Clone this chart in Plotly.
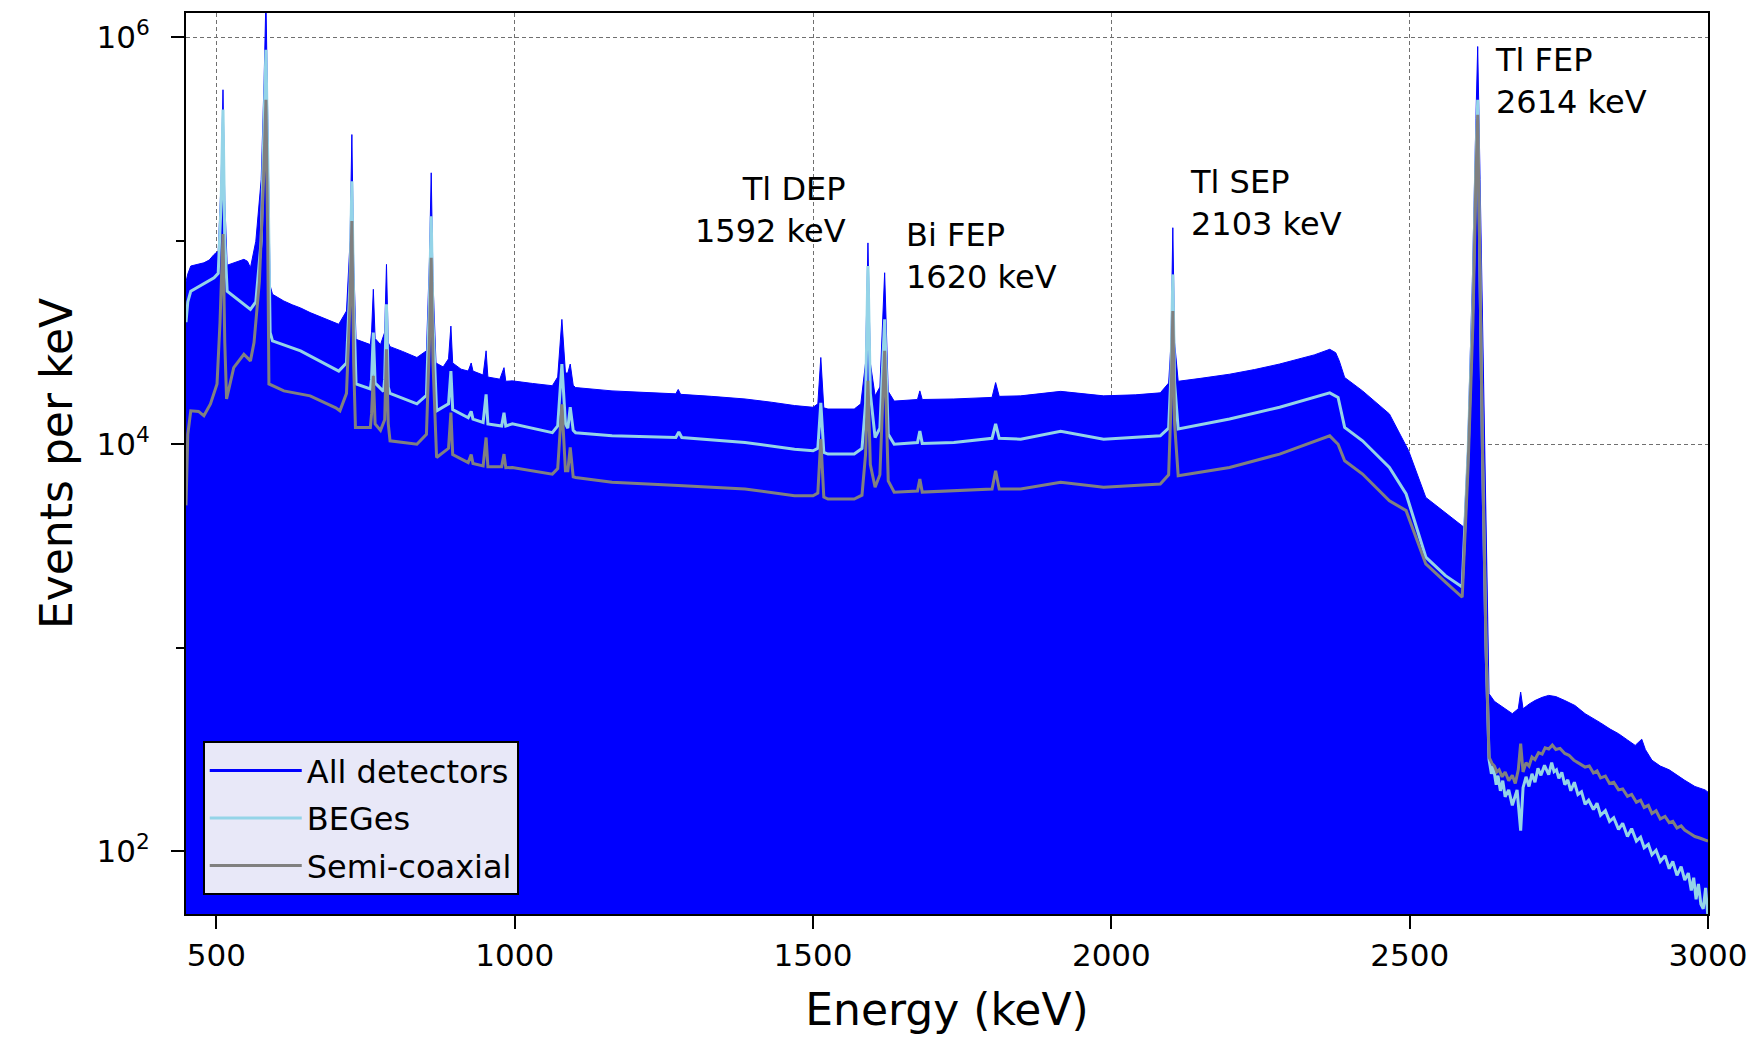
import math
import plotly.graph_objects as go

# ---- Spectrum of all detectors (counts per keV) ----
all_energy = [449, 452, 457, 468, 479, 488, 496, 503, 508, 511, 514, 518, 530, 538, 546, 552, 557, 566,
              575, 580, 583, 586, 590, 594, 603, 613, 627, 641, 657, 672, 690, 705, 718, 724, 727, 730,
              734, 750, 758, 760, 763, 766, 775, 782, 785, 788, 791, 812, 836, 852, 857, 860, 863, 868,
              880, 889, 893, 896, 910, 922, 927, 930, 947, 952, 955, 975, 982, 985, 996, 1030, 1063, 1072,
              1079, 1085, 1089, 1093, 1098, 1102, 1130, 1163, 1215, 1270, 1274, 1278, 1330, 1386, 1430,
              1469, 1500, 1508, 1513, 1518, 1525, 1569, 1580, 1588, 1592, 1596, 1604, 1612, 1620, 1626,
              1636, 1675, 1679, 1683, 1736, 1800, 1806, 1812, 1848, 1915, 1987, 2040, 2082, 2096, 2100,
              2103, 2106, 2112, 2150, 2198, 2240, 2282, 2340, 2366, 2376, 2382, 2391, 2421, 2466, 2498,
              2527, 2560, 2591, 2597, 2605, 2611, 2614, 2618, 2624, 2629, 2633, 2642, 2650, 2660, 2672,
              2682, 2686, 2690, 2700, 2710, 2722, 2733, 2745, 2760, 2777, 2794, 2808, 2820, 2836, 2850,
              2865, 2878, 2889, 2895, 2906, 2920, 2935, 2948, 2961, 2978, 2995, 3000]
all_counts = [63000, 68700, 75200, 76500, 78000, 80500, 85700, 89100, 200000, 553000, 158000, 75900,
              78000, 80000, 81100, 79400, 73800, 99500, 200000, 631000, 1580000, 398000, 60300, 54600,
              52500, 50600, 48500, 46800, 44400, 42600, 40500, 38900, 45200, 100000, 333000, 79400, 32800,
              31600, 30900, 35500, 57800, 33100, 30900, 35500, 76600, 31600, 30200, 28600, 26700, 28800,
              79400, 216000, 63100, 25100, 24000, 26300, 38100, 25100, 23400, 22900, 25100, 22900, 21900,
              28800, 21400, 20900, 23800, 20400, 20500, 19900, 19400, 21400, 41100, 22400, 22400, 24800,
              19500, 19000, 18700, 18300, 18000, 17700, 18600, 17600, 17200, 16700, 16100, 15500, 15200,
              15800, 26700, 15100, 14900, 14900, 15800, 25100, 97700, 25100, 17300, 19100, 69700, 18200,
              16300, 16600, 18300, 16600, 16700, 17000, 20100, 17200, 17300, 18200, 17300, 17500, 17900,
              20000, 31600, 116000, 31600, 20400, 21100, 22100, 23300, 24800, 27500, 29300, 28200, 25700,
              21300, 18300, 14100, 9330, 5480, 4620, 3910, 9330, 63100, 398000, 902000, 200000, 15800,
              2000, 594, 545, 525, 505, 474, 501, 605, 501, 528, 550, 570, 583, 575, 550, 520, 474, 450,
              427, 398, 378, 352, 331, 355, 316, 280, 262, 251, 236, 223, 208, 200, 195]

# ---- BEGe detectors ----
bege_energy = [449, 452, 457, 479, 496, 503, 508, 511, 514, 518, 546, 557, 566, 575, 580, 583, 586, 590,
               594, 641, 705, 718, 724, 727, 730, 734, 758, 760, 763, 766, 780, 782, 785, 788, 791, 836,
               852, 857, 860, 863, 869, 889, 893, 896, 922, 927, 930, 947, 952, 955, 978, 982, 985, 996,
               1063, 1072, 1079, 1085, 1089, 1093, 1098, 1102, 1163, 1270, 1275, 1280, 1386, 1469, 1500,
               1508, 1513, 1518, 1525, 1569, 1582, 1588, 1592, 1596, 1604, 1612, 1620, 1626, 1636, 1675,
               1679, 1683, 1736, 1800, 1806, 1812, 1848, 1915, 1987, 2082, 2096, 2100, 2103, 2106, 2112,
               2198, 2282, 2366, 2380, 2391, 2421, 2466, 2494, 2516, 2527, 2560, 2588, 2598, 2606, 2611,
               2614, 2618, 2622, 2628, 2633, 2637, 2640, 2645, 2648, 2652, 2656, 2660, 2666, 2672, 2676,
               2680, 2686, 2690, 2695, 2700, 2705, 2710, 2715, 2720, 2726, 2733, 2738, 2742, 2746, 2750,
               2755, 2760, 2765, 2770, 2776, 2782, 2788, 2794, 2800, 2808, 2814, 2820, 2828, 2835, 2842,
               2850, 2857, 2865, 2872, 2880, 2887, 2893, 2900, 2906, 2913, 2920, 2928, 2935, 2941, 2948,
               2955, 2961, 2967, 2972, 2976, 2980, 2984, 2988, 2992, 2996, 3000]
bege_counts = [39800, 50100, 56600, 61700, 65800, 69200, 158000, 442000, 100000, 56600, 49000, 46000,
               50100, 100000, 398000, 869000, 251000, 35500, 32200, 28800, 22900, 25100, 63100, 196000,
               50100, 19800, 18700, 20900, 35400, 20000, 18200, 20900, 48800, 19100, 17800, 15800, 17400,
               50100, 132000, 39800, 14600, 15800, 22900, 14800, 13500, 14500, 13300, 12800, 17600, 12600,
               12300, 14300, 12300, 12600, 11400, 12300, 24800, 12600, 12000, 15200, 11700, 11400, 11000,
               10800, 11500, 10800, 10200, 9460, 9290, 9550, 16000, 9120, 8950, 8950, 9550, 15800, 75200,
               17800, 10800, 12000, 41100, 11200, 10000, 10200, 11600, 10100, 10200, 10700, 12600, 10700,
               10600, 11600, 10600, 11000, 12000, 22400, 68400, 20000, 11900, 13300, 15200, 17900, 17000,
               12100, 10400, 7690, 5700, 3490, 2790, 2260, 1990, 9330, 50100, 251000, 494000, 63100, 9330,
               1000, 282, 240, 262, 212, 235, 198, 222, 185, 200, 168, 185, 200, 126, 205, 232, 208, 240,
               218, 255, 236, 264, 238, 272, 246, 251, 228, 244, 212, 224, 198, 218, 190, 196, 170, 178,
               160, 172, 150, 158, 140, 146, 128, 137, 118, 129, 112, 117, 104, 108, 96, 101, 89, 95, 82,
               89, 76, 84, 72, 78, 64, 74, 58, 69, 55, 52, 66, 47, 50]

# ---- Semi-coaxial detectors ----
coax_energy = [449, 452, 457, 470, 479, 490, 501, 506, 511, 514, 517, 529, 546, 557, 563, 572, 579, 583,
               586, 588, 613, 657, 700, 707, 718, 724, 727, 730, 733, 758, 760, 763, 766, 775, 782, 785,
               788, 791, 836, 852, 857, 860, 863, 869, 889, 893, 896, 922, 927, 930, 947, 952, 955, 978,
               982, 985, 996, 1063, 1072, 1079, 1085, 1089, 1093, 1098, 1102, 1163, 1274, 1386, 1469, 1500,
               1508, 1513, 1518, 1525, 1569, 1582, 1588, 1592, 1596, 1604, 1612, 1620, 1626, 1636, 1675,
               1679, 1683, 1736, 1800, 1806, 1812, 1848, 1915, 1987, 2082, 2096, 2100, 2103, 2106, 2112,
               2198, 2282, 2366, 2380, 2391, 2421, 2466, 2494, 2516, 2527, 2560, 2588, 2598, 2606, 2611,
               2614, 2618, 2622, 2628, 2633, 2638, 2642, 2646, 2650, 2655, 2660, 2666, 2672, 2677, 2682,
               2686, 2690, 2695, 2700, 2705, 2710, 2716, 2722, 2727, 2733, 2739, 2745, 2752, 2760, 2767,
               2775, 2784, 2794, 2801, 2808, 2814, 2820, 2828, 2835, 2842, 2850, 2857, 2865, 2872, 2880,
               2887, 2893, 2900, 2906, 2913, 2920, 2928, 2935, 2941, 2948, 2955, 2961, 2970, 2978, 2986,
               2995, 3000]
coax_counts = [5010, 11200, 14600, 14500, 13800, 15800, 19800, 39800, 108000, 31600, 16700, 23800,
               27700, 25700, 31600, 63100, 200000, 494000, 100000, 19800, 18300, 17300, 15100, 14600,
               17800, 50100, 125000, 25100, 12100, 12100, 14100, 21700, 12600, 11700, 13200, 29300, 12600,
               10400, 10000, 11200, 31600, 82600, 25100, 8610, 9550, 14300, 8910, 8130, 8910, 8040, 7830,
               10800, 7760, 7760, 8950, 7670, 7690, 7130, 7590, 15700, 7410, 7410, 9640, 6920, 6870, 6500,
               6270, 6030, 5580, 5580, 5750, 10600, 5500, 5380, 5380, 5620, 8910, 20500, 7940, 6150, 7080,
               28800, 6610, 5810, 5890, 6750, 5820, 5920, 6030, 7410, 6030, 6030, 6500, 6150, 6380, 7080,
               15800, 45200, 12600, 7000, 7690, 8950, 11000, 10000, 8300, 7140, 5280, 4720, 3120, 2580,
               2100, 1770, 7940, 39800, 200000, 417000, 63100, 9330, 1000, 290, 270, 262, 245, 251, 232,
               245, 222, 236, 215, 251, 338, 245, 272, 262, 290, 282, 305, 300, 322, 318, 332, 316, 320,
               302, 296, 280, 270, 259, 262, 242, 248, 229, 234, 215, 218, 200, 202, 186, 190, 174, 178, 164,
               168, 153, 158, 144, 148, 138, 140, 130, 133, 127, 122, 118, 116, 113, 112]

# ---- Axis ticks ----
x_ticks = [500, 1000, 1500, 2000, 2500, 3000]
y_ticks = [1e2, 1e4, 1e6]
y_tick_text = ["10<sup>2</sup>", "10<sup>4</sup>", "10<sup>6</sup>"]
y_minor_ticks = [1e3, 1e5]

# ---- Peak labels ----
peak_labels = ["Tl DEP<br>1592 keV", "Bi FEP<br>1620 keV", "Tl SEP<br>2103 keV", "Tl FEP<br>2614 keV"]
peak_energies = [1592, 1620, 2103, 2614]
label_levels = [1.41e5, 8.4e4, 1.54e5, 6.1e5]

FONT = "DejaVu Sans"
BLUE = "#0000ff"
LIGHT_BLUE = "#94d4e8"
GREY = "#808080"

fig = go.Figure()

# Floor below the visible range so the summed spectrum is filled down to the axis
fig.add_trace(go.Scatter(
    x=[all_energy[0], all_energy[-1]], y=[1, 1], mode="lines",
    line=dict(width=0, color=BLUE), showlegend=False, hoverinfo="skip"))

fig.add_trace(go.Scatter(
    x=all_energy, y=all_counts, mode="lines", fill="tonexty",
    fillcolor=BLUE, line=dict(color=BLUE, width=1),
    name="All detectors", showlegend=False))

# Legend entry for the filled spectrum
fig.add_trace(go.Scatter(
    x=[None], y=[None], mode="lines", line=dict(color=BLUE, width=3),
    name="All detectors", legendgroup="all"))

fig.add_trace(go.Scatter(
    x=bege_energy, y=bege_counts, mode="lines",
    line=dict(color=LIGHT_BLUE, width=3), name="BEGes", legendgroup="bege"))

fig.add_trace(go.Scatter(
    x=coax_energy, y=coax_counts, mode="lines",
    line=dict(color=GREY, width=3), name="Semi-coaxial", legendgroup="coax"))

label_style = [
    dict(xanchor="right", align="right", xshift=-20),
    dict(xanchor="left", align="left", xshift=19),
    dict(xanchor="left", align="left", xshift=15),
    dict(xanchor="left", align="left", xshift=15),
]
for text, e, lvl, st in zip(peak_labels, peak_energies, label_levels, label_style):
    fig.add_annotation(
        x=e, y=math.log10(lvl), xref="x", yref="y", text=text, showarrow=False,
        yanchor="middle", font=dict(family=FONT, size=32, color="black"), **st)

fig.update_layout(
    width=1758, height=1037,
    margin=dict(l=186, r=45, t=11, b=123),
    paper_bgcolor="white", plot_bgcolor="white",
    font=dict(family=FONT, size=31, color="black"),
    legend=dict(
        x=0.011, y=0.021, xanchor="left", yanchor="bottom",
        traceorder="grouped", tracegroupgap=3, itemwidth=92,
        bgcolor="rgb(232,232,248)", bordercolor="black", borderwidth=2,
        font=dict(family=FONT, size=32, color="black")),
)

fig.update_xaxes(
    range=[449, 3000], tickmode="array", tickvals=x_ticks,
    ticks="outside", ticklen=13, tickwidth=2, tickcolor="black",
    showline=True, linecolor="black", linewidth=2, mirror=True,
    showgrid=True, gridcolor="#707070", gridwidth=1, griddash="4px,3px",
    zeroline=False,
    title=dict(text="Energy (keV)", font=dict(family=FONT, size=44), standoff=22),
)

fig.update_yaxes(
    type="log", range=[1.691, 6.12], tickmode="array",
    tickvals=y_ticks, ticktext=y_tick_text, ticklabelstandoff=15,
    ticks="outside", ticklen=13, tickwidth=2, tickcolor="black",
    showline=True, linecolor="black", linewidth=2, mirror=True,
    showgrid=True, gridcolor="#707070", gridwidth=1, griddash="4px,3px",
    zeroline=False,
    minor=dict(tickmode="array", tickvals=y_minor_ticks, ticks="outside",
               ticklen=8, tickwidth=2, tickcolor="black", showgrid=False),
    title=dict(text="Events per keV", font=dict(family=FONT, size=44), standoff=10),
)

fig.write_html("out.html")
